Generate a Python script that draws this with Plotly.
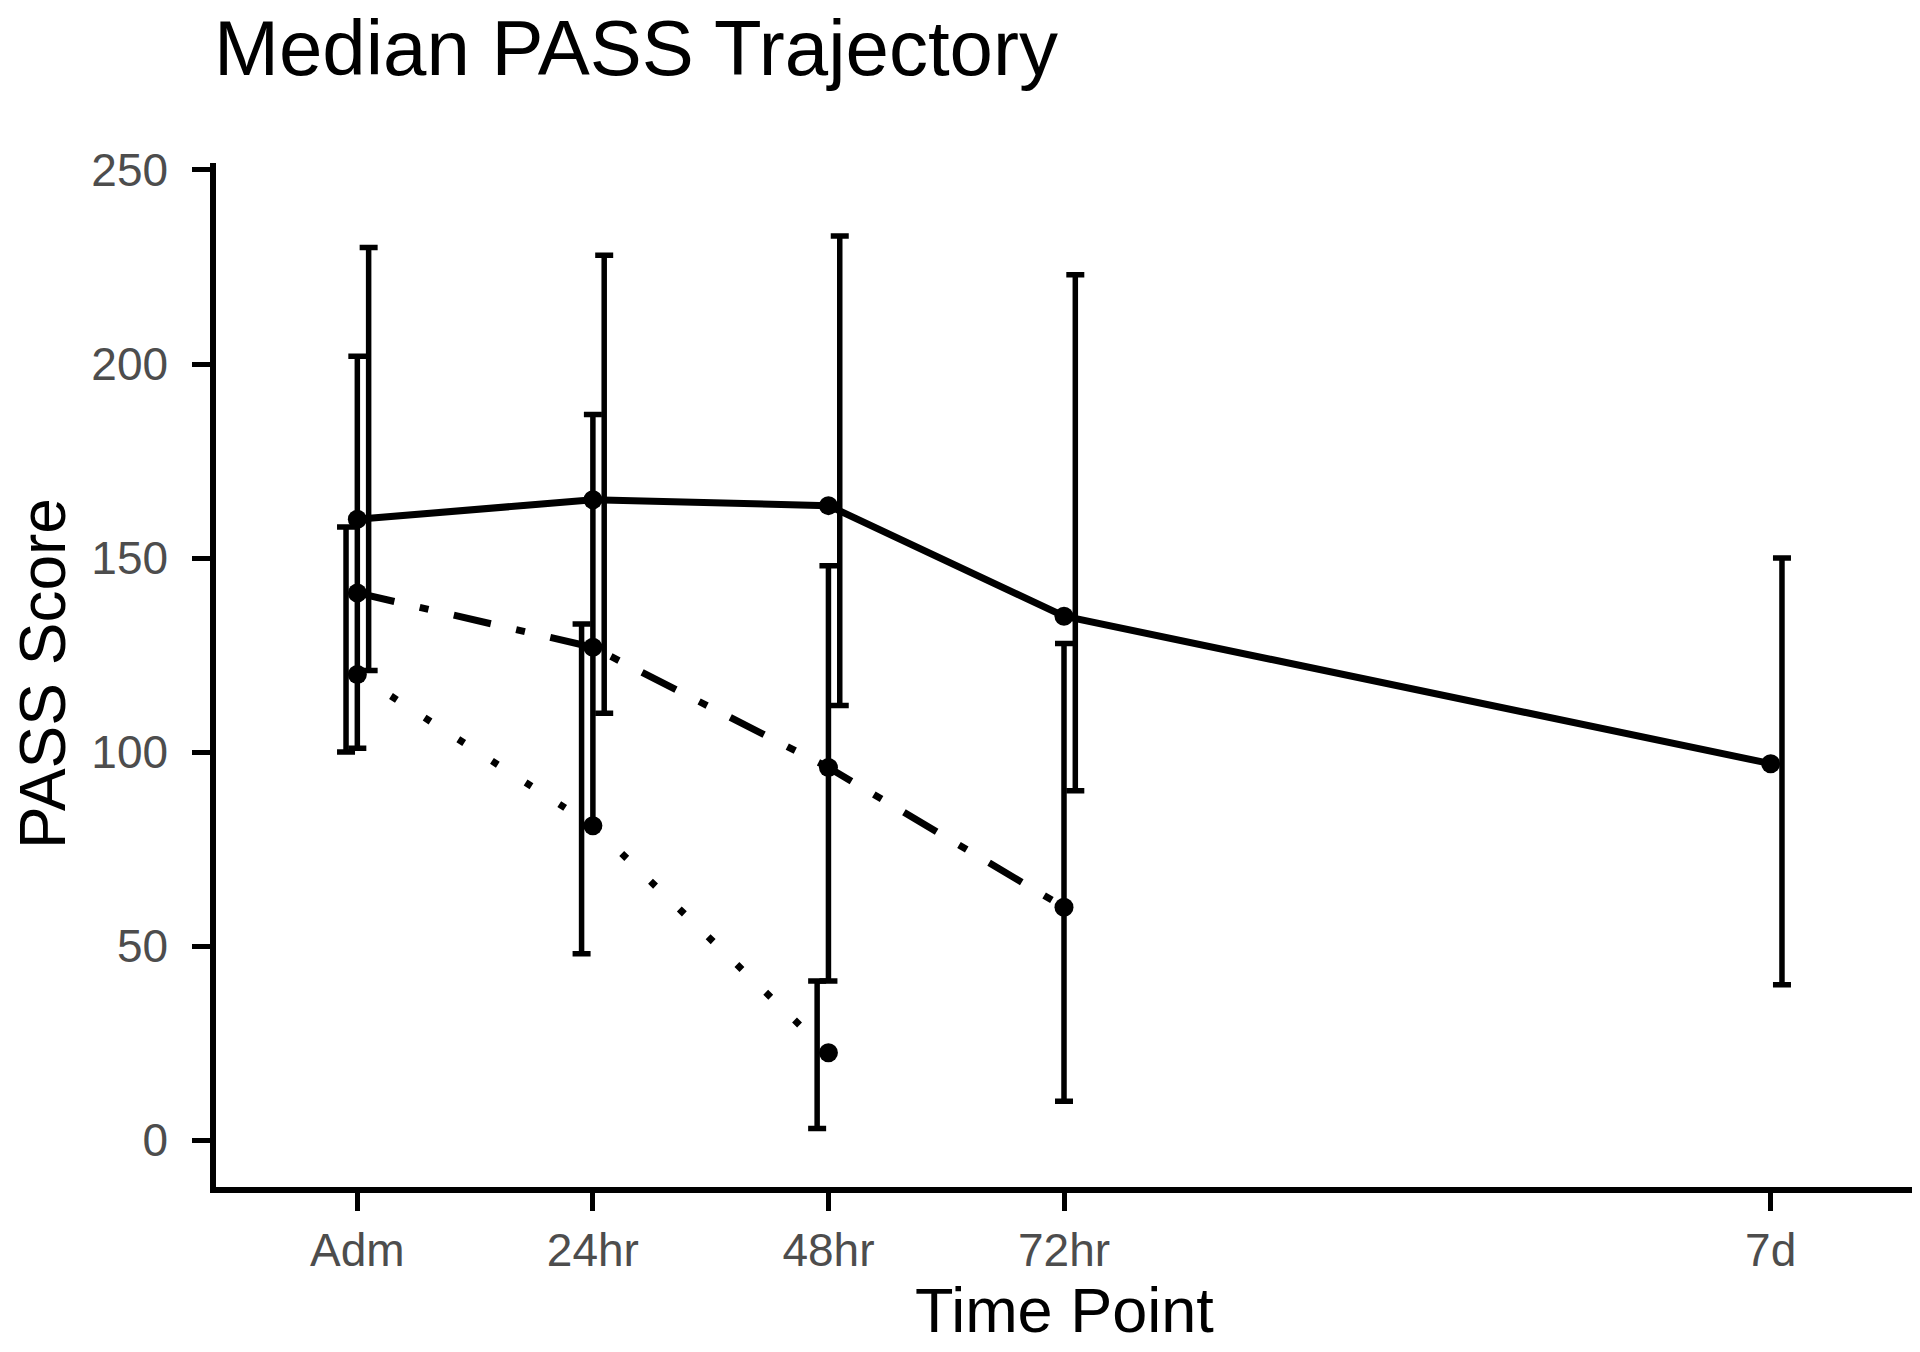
import plotly.graph_objects as go

# Time points (categorical labels placed on a numeric axis)
tick_labels = ["Adm", "24hr", "48hr", "72hr", "7d"]
tick_pos = [0, 1, 2, 3, 6]

# Series 1 (solid line): all five time points
solid_x = [0, 1, 2, 3, 6]
solid_med = [160, 165, 163.5, 135, 97]
solid_lo = [121, 110, 112, 90, 40]
solid_hi = [230, 228, 233, 223, 150]

# Series 2 (dash-dot line): Adm..72hr
dashdot_x = [0, 1, 2, 3]
dashdot_med = [141, 127, 96, 60]
dashdot_lo = [101, 81, 41, 10]
dashdot_hi = [202, 187, 148, 128]

# Series 3 (dotted line): Adm..48hr
dot_x = [0, 1, 2]
dot_med = [120, 81, 22.5]
dot_lo = [100, 48, 3]
dot_hi = [158, 133, 41]

DODGE = 0.048
LW = 7
EB_T = 5.5
EB_W = 9
MSIZE = 19
FONT = "Liberation Sans, Arial, Helvetica, sans-serif"
W, H = 1904, 1336   # page body has an 8px margin
ML, MR, MT, MB = 208, 0, 155, 157
PW, PH = W - ML - MR, H - MT - MB

fig = go.Figure()

series = [
    (dot_x, dot_med, dot_lo, dot_hi, "7px,33px", -DODGE),
    (dashdot_x, dashdot_med, dashdot_lo, dashdot_hi, "38px,26px,9px,26px", 0.0),
    (solid_x, solid_med, solid_lo, solid_hi, "solid", DODGE),
]

for xs, med, lo, hi, dash, off in series:
    # error bars (dodged horizontally)
    fig.add_trace(go.Scatter(
        x=[x + off for x in xs], y=med, mode="markers",
        marker=dict(size=1, color="rgba(0,0,0,0)"),
        error_y=dict(type="data", symmetric=False,
                     array=[h - m for h, m in zip(hi, med)],
                     arrayminus=[m - l for m, l in zip(med, lo)],
                     color="black", thickness=EB_T, width=EB_W),
        hoverinfo="skip", showlegend=False,
    ))
    # median line + points
    fig.add_trace(go.Scatter(
        x=xs, y=med, mode="lines+markers",
        line=dict(color="black", width=LW, dash=dash),
        marker=dict(color="black", size=MSIZE),
        showlegend=False,
    ))

# axis titles as annotations (pixel-placed relative to the plot area)
fig.add_annotation(text="Time Point", xref="paper", yref="paper",
                   x=(1056 - ML) / PW, y=(MT + PH - 1302) / PH,
                   xanchor="center", yanchor="middle", showarrow=False,
                   font=dict(size=63, color="black", family=FONT))
fig.add_annotation(text="PASS Score", xref="paper", yref="paper",
                   x=(35 - ML) / PW, y=(MT + PH - 666) / PH, textangle=-90,
                   xanchor="center", yanchor="middle", showarrow=False,
                   font=dict(size=64, color="black", family=FONT))

fig.update_layout(
    width=W, height=H,
    margin=dict(l=ML, r=MR, t=MT, b=MB),
    plot_bgcolor="white", paper_bgcolor="white",
    font=dict(family=FONT, color="black"),
    showlegend=False,
    title=dict(text="Median PASS Trajectory", font=dict(size=78, color="black", family=FONT),
               xref="container", yref="container", x=206 / W, xanchor="left",
               y=1 - 40 / H, yanchor="middle"),
)

fig.update_xaxes(
    range=[-0.6, 6.6], tickvals=tick_pos, ticktext=tick_labels, automargin=False,
    showgrid=False, zeroline=False, showline=True, linecolor="black", linewidth=5.5,
    ticks="outside", ticklen=18, tickwidth=5, tickcolor="black",
    tickfont=dict(size=46, color="#4d4d4d", family=FONT),
)
fig.update_yaxes(
    range=[-12.1, 251.8], tickvals=[0, 50, 100, 150, 200, 250], automargin=False,
    showgrid=False, zeroline=False, showline=True, linecolor="black", linewidth=5.5,
    ticks="outside", ticklen=18, tickwidth=5, tickcolor="black",
    tickfont=dict(size=46, color="#4d4d4d", family=FONT),
    ticklabelstandoff=15,
)

fig.write_html("out.html")
